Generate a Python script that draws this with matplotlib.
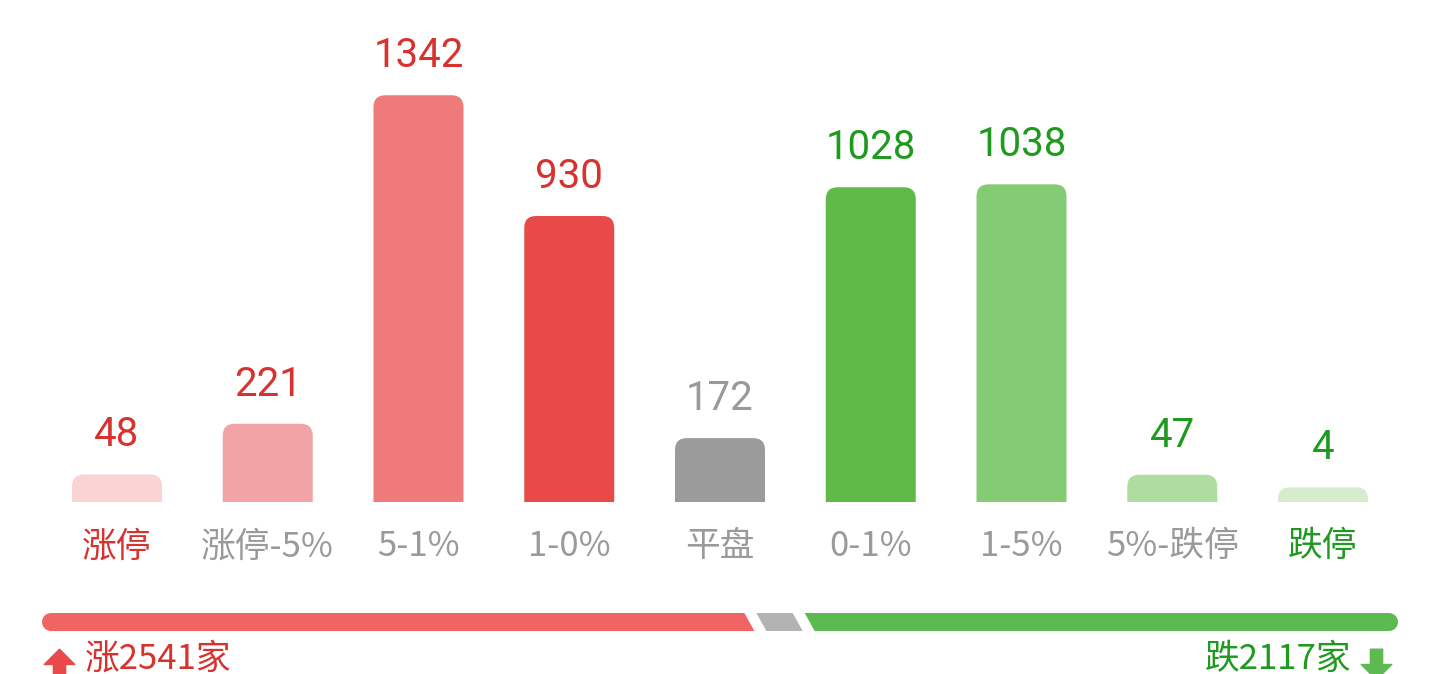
import numpy as np
import matplotlib
matplotlib.use("Agg")
import matplotlib.pyplot as plt
from matplotlib.patches import FancyBboxPatch, Polygon, Ellipse
from matplotlib.path import Path

# data
categories = ['涨停', '涨停-5%', '5-1%', '1-0%', '平盘', '0-1%', '1-5%', '5%-跌停', '跌停']
counts = [48, 221, 1342, 930, 172, 1028, 1038, 47, 4]
up_count = 2541
flat_count = 172
down_count = 2117

# colours
bar_colors = ['#fad4d4', '#f2a3a5', '#ee7a7a', '#e84a4a', '#9b9b9b',
              '#5fba47', '#84cc74', '#aedd9f', '#d5edcd']
RED_TXT = '#d8322f'
GREEN_TXT = '#1f9a1f'
GREY_TXT = '#9a9a9a'
value_colors = [RED_TXT] * 4 + [GREY_TXT] + [GREEN_TXT] * 4
label_colors = [RED_TXT] + [GREY_TXT] * 7 + [GREEN_TXT]

W, H = 1440, 674
cjk = ['Noto Sans CJK SC', 'DejaVu Sans']

fig = plt.figure(figsize=(W / 100, H / 100), dpi=100)
fig.patch.set_facecolor('white')

# bar chart axes, bottom edge = bar baseline
base_px = 501.7
base_off = 45  # small bars still get a stub
ax = fig.add_axes([0, (H - base_px) / H, 1, base_px / H])
ax.set_xlim(-0.776, 8.776)
ax.set_ylim(-base_off, 1667)
ax.axis('off')

x = np.arange(len(counts))
vals = np.array(counts)
bars = ax.bar(x, vals + base_off, bottom=-base_off, width=0.597, color=bar_colors)

# round the top corners
fig.canvas.draw()
p0 = ax.transData.transform((0, 0))
p1 = ax.transData.transform((1, 1))
xpu = 1 / (p1[0] - p0[0])   # data units per pixel
ypu = 1 / (p1[1] - p0[1])
r_px = 12
for rect, c in zip(bars, bar_colors):
    bx, by = rect.get_x(), rect.get_y()
    bw, bh = rect.get_width(), rect.get_height()
    rect.remove()
    fb = FancyBboxPatch((bx, by - r_px * ypu), bw, bh + r_px * ypu,
                        boxstyle=f"round,pad=0,rounding_size={r_px * xpu}",
                        mutation_aspect=ypu / xpu, fc=c, ec='none')
    ax.add_patch(fb)

for i, v in enumerate(counts):
    ax.annotate(str(v), xy=(i, v), xytext=(0, 28), textcoords='offset pixels',
                ha='center', va='baseline', fontsize=29, family='Roboto',
                color=value_colors[i], annotation_clip=False)
    ax.annotate(categories[i], xy=(i, -base_off), xytext=(0, -45),
                textcoords='offset pixels', ha='center', va='center',
                fontsize=25, family=cjk, color=label_colors[i],
                annotation_clip=False)

# ratio bar
total = up_count + flat_count + down_count
ax2 = fig.add_axes([42 / W, (H - 631) / H, 1356 / W, 18 / H])
ax2.set_xlim(0, total)
ax2.set_ylim(0, 1)
ax2.axis('off')
upx = total / 1356
gap, slant, r = 12 * upx, 10 * upx, 9 * upx
b1 = up_count
b2 = up_count + flat_count
segs = [
    ('#f06464', [(r, 0), (r, 1), (b1 - gap / 2 - slant / 2, 1), (b1 - gap / 2 + slant / 2, 0)]),
    ('#b3b3b3', [(b1 + gap / 2 + slant / 2, 0), (b1 + gap / 2 - slant / 2, 1),
                 (b2 - gap / 2 - slant / 2, 1), (b2 - gap / 2 + slant / 2, 0)]),
    ('#5cba50', [(b2 + gap / 2 + slant / 2, 0), (b2 + gap / 2 - slant / 2, 1),
                 (total - r, 1), (total - r, 0)]),
]
for c, pts in segs:
    ax2.add_patch(Polygon(pts, closed=True, fc=c, ec='none'))
ax2.add_patch(Ellipse((r, 0.5), 2 * r, 1, fc='#f06464', ec='none'))
ax2.add_patch(Ellipse((total - r, 0.5), 2 * r, 1, fc='#5cba50', ec='none'))

# footer
ax3 = fig.add_axes([0, 0, 1, 1], zorder=-1)
ax3.set_xlim(0, W)
ax3.set_ylim(H, 0)
ax3.axis('off')
up_arrow = Path([(-1, 0), (0, 1), (1, 0), (0.4, 0), (0.4, -1), (-0.4, -1), (-0.4, 0), (-1, 0)],
                [Path.MOVETO] + [Path.LINETO] * 6 + [Path.CLOSEPOLY])
down_arrow = Path([(xx, -yy) for xx, yy in up_arrow.vertices], up_arrow.codes)
ax3.plot([59], [664], marker=up_arrow, markersize=22, color='#e84a4a', clip_on=False)
ax3.plot([1376], [664], marker=down_arrow, markersize=22, color='#5cba50', clip_on=False)
ax3.text(85, 659, f'涨{up_count}家', ha='left', va='center', fontsize=25,
         family=cjk, color=RED_TXT)
ax3.text(1351, 659, f'跌{down_count}家', ha='right', va='center', fontsize=25,
         family=cjk, color=GREEN_TXT)

fig.savefig('out.png', dpi=100, facecolor='white')
